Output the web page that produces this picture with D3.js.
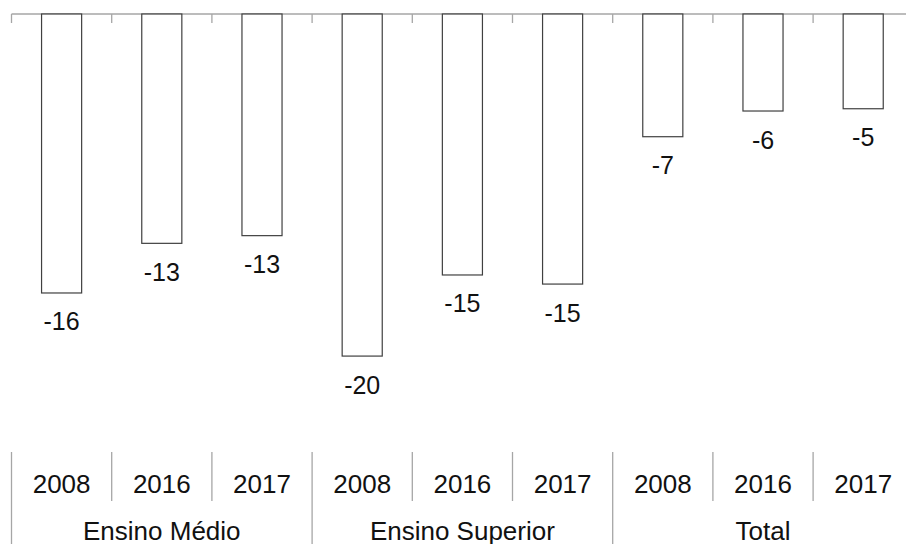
<!DOCTYPE html>
<html>
<head>
<meta charset="utf-8">
<script src="https://cdn.jsdelivr.net/npm/d3@7"></script>
<style>
  html, body { margin: 0; padding: 0; background: #fff; }
  svg { display: block; }
  text { font-family: "Liberation Sans", Arial, sans-serif; fill: #111; }
</style>
</head>
<body>
<svg id="chart" width="906" height="544"></svg>
<script>
// Groups and years along the category axis
const groups = ["Ensino Médio", "Ensino Superior", "Total"];
const years = ["2008", "2016", "2017"];
// Values per bar, in group order then year order
const values = [-15.96, -13.12, -12.68, -19.57, -14.93, -15.45, -7.02, -5.55, -5.42];

const data = [];
groups.forEach((g, gi) => years.forEach((y, yi) => {
  data.push({ group: g, year: y, key: g + "|" + y, value: values[gi * years.length + yi] });
}));

const W = 906, H = 544;
const svg = d3.select("#chart");

const x = d3.scaleBand()
  .domain(data.map(d => d.key))
  .range([11.5, 11.5 + 9 * 100.2])
  .paddingInner(0.6)
  .paddingOuter(0.3);

const y = d3.scaleLinear()
  .domain([-24, 0])
  .range([14 + 17.48 * 24, 14]);

const step = x.step();
const slotLeft = k => x(k) - step * x.paddingOuter();
const x0 = x.range()[0];

// Zero line with ticks at category boundaries
const axisColor = "#a6a6a6";
svg.append("line")
  .attr("x1", x0).attr("x2", W + 20)
  .attr("y1", y(0)).attr("y2", y(0))
  .attr("stroke", axisColor).attr("stroke-width", 1.3);

const boundaries = d3.range(0, data.length + 1).map(i => x0 + i * step);
svg.append("g").selectAll("line").data(boundaries).join("line")
  .attr("x1", d => d).attr("x2", d => d)
  .attr("y1", y(0)).attr("y2", y(0) + 9)
  .attr("stroke", axisColor).attr("stroke-width", 1.3);

// Bars
svg.append("g").selectAll("rect").data(data).join("rect")
  .attr("x", d => x(d.key))
  .attr("y", y(0))
  .attr("width", x.bandwidth())
  .attr("height", d => y(d.value) - y(0))
  .attr("fill", "#fff")
  .attr("stroke", "#404040")
  .attr("stroke-width", 1.2);

// Value labels below each bar
const fmt = d3.format(".0f");
svg.append("g").selectAll("text").data(data).join("text")
  .attr("x", d => x(d.key) + x.bandwidth() / 2)
  .attr("y", d => y(d.value) + 37.5)
  .attr("text-anchor", "middle")
  .attr("font-size", 25)
  .text(d => fmt(d.value).replace("−", "-"));

// Year labels
svg.append("g").selectAll("text").data(data).join("text")
  .attr("x", d => x(d.key) + x.bandwidth() / 2)
  .attr("y", 493)
  .attr("text-anchor", "middle")
  .attr("font-size", 26)
  .text(d => d.year);

// Separators between years and between groups
svg.append("g").selectAll("line").data(boundaries).join("line")
  .attr("x1", d => d).attr("x2", d => d)
  .attr("y1", 452)
  .attr("y2", (d, i) => i % years.length === 0 ? H + 2 : 501)
  .attr("stroke", axisColor).attr("stroke-width", 1.3);

// Group labels
svg.append("g").selectAll("text").data(groups).join("text")
  .attr("x", (g, i) => x0 + (i * years.length + years.length / 2) * step)
  .attr("y", 540)
  .attr("text-anchor", "middle")
  .attr("font-size", 26)
  .text(g => g);
</script>
</body>
</html>
